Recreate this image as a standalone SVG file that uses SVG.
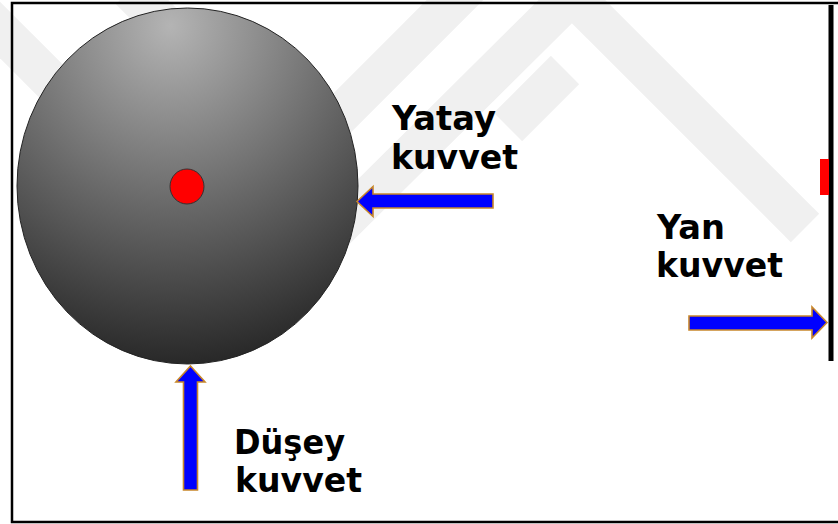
<svg xmlns="http://www.w3.org/2000/svg" width="838" height="524" viewBox="0 0 838 524">
<style>
.wm{fill:none;stroke:#f0f0f0;stroke-width:40;stroke-linejoin:miter;stroke-linecap:butt}
.arrow{fill:#0000ff;stroke:#c8862a;stroke-width:1.6;stroke-linejoin:miter}
.lbl{font-family:"DejaVu Sans","Verdana",sans-serif;font-weight:bold;font-size:33px;fill:#000}
.frame{stroke:#000;stroke-width:2.5;fill:none}
</style>
<defs>
<radialGradient id="ball" cx="0.45" cy="0.05" r="1.05" fx="0.45" fy="0.05">
<stop offset="0" stop-color="#b4b4b4"/>
<stop offset="0.5" stop-color="#666"/>
<stop offset="1" stop-color="#1a1a1a"/>
</radialGradient>
</defs>
<rect x="0" y="0" width="838" height="524" fill="#fff"/>
<g id="watermark">
<polyline class="wm" points="-20,10 130,160"/>
<polyline class="wm" points="130,-10 320,180"/>
<polyline class="wm" points="470,-15 250,205"/>
<polyline class="wm" points="300,265 572,-5 805,228"/>
<polyline class="wm" points="565,70 508,127"/>
</g>
<g id="frame">
<polyline class="frame" points="838,3 12,3 12,522 838,522"/>
</g>
<g id="wall">
<rect x="828.5" y="5" width="5" height="356" fill="#000"/>
<rect x="820" y="159" width="9" height="36" fill="#ff0000"/>
</g>
<g id="wheel">
<ellipse cx="187.5" cy="186" rx="170.5" ry="178" fill="url(#ball)" stroke="#222" stroke-width="1"/>
<ellipse cx="187" cy="186.5" rx="17" ry="17.5" fill="#ff0000" stroke="#333" stroke-width="1"/>
</g>
<g id="connectors">
<polygon id="arrow-yatay" class="arrow" points="357,201.5 373,186.5 373,194 493,194 493,208 373,208 373,216.5"/>
<polygon id="arrow-yan" class="arrow" points="689,316 812,316 812,307 827,322.5 812,338 812,330 689,330"/>
<polygon id="arrow-dusey" class="arrow" points="190.5,366 205,382 197.5,382 197.5,490 183.5,490 183.5,382 176,382"/>
</g>
<g id="label-yatay">
<text class="lbl"><tspan x="392" y="130" textLength="104" lengthAdjust="spacingAndGlyphs">Yatay</tspan><tspan x="391" y="168.5" textLength="127" lengthAdjust="spacingAndGlyphs">kuvvet</tspan></text>
</g>
<g id="label-yan">
<text class="lbl"><tspan x="657" y="238.5" textLength="68" lengthAdjust="spacingAndGlyphs">Yan</tspan><tspan x="656" y="277" textLength="127" lengthAdjust="spacingAndGlyphs">kuvvet</tspan></text>
</g>
<g id="label-dusey">
<text class="lbl"><tspan x="234" y="453.5" textLength="111" lengthAdjust="spacingAndGlyphs">Düşey</tspan><tspan x="235" y="492" textLength="127" lengthAdjust="spacingAndGlyphs">kuvvet</tspan></text>
</g>
</svg>
